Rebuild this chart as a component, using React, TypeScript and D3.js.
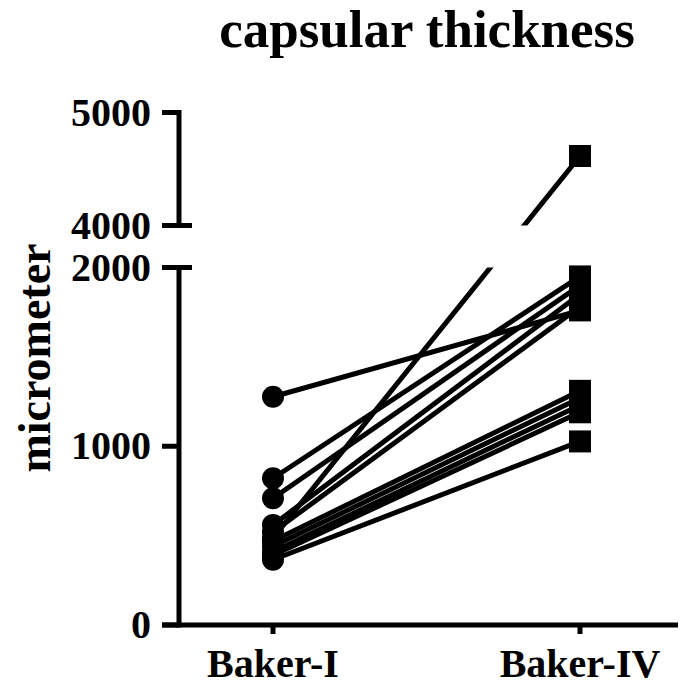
import React, { useEffect, useRef } from 'react';
import * as d3 from 'd3';

// paired measurements (micrometer), Baker-I -> Baker-IV
const groups = ['Baker-I', 'Baker-IV'];
const bakerI = [1277, 821, 709, 560, 520, 487, 470, 440, 410, 390, 365];
const bakerIV = [1760, 1950, 1900, 1850, 1780, 4615, 1310, 1270, 1230, 1190, 1027];
const lowerTicks = [0, 1000, 2000];
const upperTicks = [4000, 5000];

const W = 685;
const H = 685;

const App = () => {
  const svgRef = useRef<SVGSVGElement>(null);

  useEffect(() => {
    const svg = d3.select(svgRef.current);
    svg.selectAll('*').remove();

    const font = '"Liberation Serif", "Times New Roman", serif';
    const axisX = 179;

    const x = d3.scalePoint<string>().domain(groups).range([273, 580]);
    // broken y axis: two linear segments
    const yLow = d3.scaleLinear().domain([0, 2000]).range([625, 267.5]);
    const yHigh = d3.scaleLinear().domain([4000, 5000]).range([225.5, 112.5]);
    const y = (v: number) => (v >= 4000 ? yHigh(v) : yLow(v));

    const pairs = bakerI.map((v, i) => ({ a: v, b: bakerIV[i] }));

    // clip out the gap between segments
    const defs = svg.append('defs');
    const clip = defs.append('clipPath').attr('id', 'brk');
    clip.append('rect').attr('x', 0).attr('y', 0).attr('width', W).attr('height', yHigh(4000));
    clip.append('rect').attr('x', 0).attr('y', yLow(2000)).attr('width', W).attr('height', H - yLow(2000));

    // title
    svg.append('text')
      .attr('x', 427).attr('y', 47)
      .attr('text-anchor', 'middle')
      .attr('font-family', font).attr('font-weight', 'bold').attr('font-size', 53)
      .text('capsular thickness');

    // y label
    svg.append('text')
      .attr('transform', 'translate(50,358) rotate(-90)')
      .attr('text-anchor', 'middle')
      .attr('font-family', font).attr('font-weight', 'bold').attr('font-size', 46)
      .text('micrometer');

    // connecting lines
    svg.append('g').attr('clip-path', 'url(#brk)')
      .selectAll('line').data(pairs).enter().append('line')
      .attr('x1', x('Baker-I')!).attr('y1', d => y(d.a))
      .attr('x2', x('Baker-IV')!).attr('y2', d => y(d.b))
      .attr('stroke', '#000').attr('stroke-width', 5);

    // markers
    svg.append('g').selectAll('circle').data(bakerI).enter().append('circle')
      .attr('cx', x('Baker-I')!).attr('cy', d => y(d)).attr('r', 11).attr('fill', '#000');
    svg.append('g').selectAll('rect').data(bakerIV).enter().append('rect')
      .attr('x', x('Baker-IV')! - 11).attr('y', d => y(d) - 11)
      .attr('width', 22).attr('height', 22).attr('fill', '#000');

    const ax = svg.append('g').attr('stroke', '#000').attr('stroke-width', 5).attr('fill', 'none');
    // lower segment
    ax.append('line').attr('x1', axisX).attr('x2', axisX).attr('y1', yLow(2000) - 2.5).attr('y2', yLow(0) + 2.5);
    // upper segment
    ax.append('line').attr('x1', axisX).attr('x2', axisX).attr('y1', yHigh(5000) - 2.5).attr('y2', yHigh(4000) + 2.5);
    // ticks
    lowerTicks.forEach(t => {
      ax.append('line').attr('x1', 162).attr('x2', t === 2000 ? 192 : axisX).attr('y1', yLow(t)).attr('y2', yLow(t));
    });
    upperTicks.forEach(t => {
      ax.append('line').attr('x1', 162).attr('x2', t === 4000 ? 192 : axisX).attr('y1', yHigh(t)).attr('y2', yHigh(t));
    });
    // x axis
    ax.append('line').attr('x1', 162).attr('x2', 678).attr('y1', yLow(0)).attr('y2', yLow(0));
    groups.forEach(g => {
      ax.append('line').attr('x1', x(g)!).attr('x2', x(g)!).attr('y1', yLow(0)).attr('y2', yLow(0) + 9);
    });

    // tick labels
    const tl = svg.append('g')
      .attr('font-family', font).attr('font-weight', 'bold').attr('font-size', 40)
      .attr('text-anchor', 'end');
    lowerTicks.forEach(t => {
      tl.append('text').attr('x', 151).attr('y', yLow(t) + 13).text(t);
    });
    upperTicks.forEach(t => {
      tl.append('text').attr('x', 151).attr('y', yHigh(t) + 13).text(t);
    });
    const xl = svg.append('g')
      .attr('font-family', font).attr('font-weight', 'bold').attr('font-size', 40)
      .attr('text-anchor', 'middle');
    groups.forEach(g => {
      xl.append('text').attr('x', x(g)!).attr('y', 677).text(g);
    });
  }, []);

  return (
    <svg ref={svgRef} width={W} height={H}
      style={{ position: 'absolute', left: 0, top: 0, background: '#fff' }} />
  );
};

export default App;
